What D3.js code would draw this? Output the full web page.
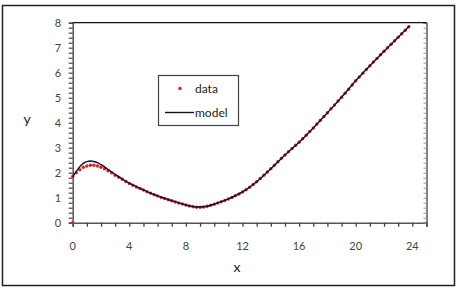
<!DOCTYPE html>
<html>
<head>
<meta charset="utf-8">
<script src="https://cdn.jsdelivr.net/npm/d3@7"></script>
<style>
  body { margin: 0; background: #fff; }
  text { font-family: Lato, "Open Sans", sans-serif; }
</style>
</head>
<body>
<svg width="460" height="288"></svg>
<script>
// data, x step 0.25
var dataX = d3.range(0, 24, 0.25)
var dataY = [1.85, 2.0, 2.12, 2.22, 2.27, 2.3, 2.3, 2.27, 2.22, 2.16, 2.08, 2.0,
  1.9, 1.82, 1.74, 1.65, 1.57, 1.5, 1.43, 1.37, 1.31, 1.24, 1.18, 1.12,
  1.07, 1.01, 0.97, 0.92, 0.88, 0.83, 0.79, 0.75, 0.71, 0.67, 0.64, 0.62,
  0.62, 0.63, 0.66, 0.7, 0.74, 0.79, 0.84, 0.89, 0.95, 1.01, 1.08, 1.15,
  1.23, 1.32, 1.42, 1.53, 1.64, 1.77, 1.9, 2.03, 2.16, 2.3, 2.44, 2.58,
  2.71, 2.84, 2.97, 3.1, 3.22, 3.36, 3.5, 3.65, 3.79, 3.95, 4.1, 4.25,
  4.4, 4.56, 4.71, 4.87, 5.02, 5.18, 5.34, 5.51, 5.68, 5.83, 5.98, 6.13,
  6.28, 6.43, 6.57, 6.72, 6.86, 7.0, 7.14, 7.28, 7.42, 7.56, 7.7, 7.84]
var extraX = [0]          // the lone point at the origin
var extraY = [0]

var modelX = [0, 0.25, 0.5, 0.75, 1, 1.25, 1.5, 1.75, 2, 2.25, 2.5, 2.75, 3,
  3.5, 4, 5, 6, 7, 8, 8.5, 9, 9.5, 10, 11, 12, 13, 14, 15, 16, 17, 18,
  19, 20, 21, 22, 23, 23.8]
var modelY = [1.83, 2.05, 2.24, 2.37, 2.44, 2.47, 2.45, 2.4, 2.32, 2.23, 2.13, 2.03, 1.93,
  1.75, 1.58, 1.31, 1.07, 0.88, 0.71, 0.65, 0.63, 0.66, 0.74, 0.95, 1.23, 1.64, 2.16, 2.71, 3.22, 3.79, 4.4,
  5.02, 5.68, 6.28, 6.86, 7.42, 7.87]

var xTicks = [0, 4, 8, 12, 16, 20, 24]
var yTicks = [0, 1, 2, 3, 4, 5, 6, 7, 8]

var svg = d3.select('svg')

svg.append('rect')
  .attr('x', 2.5).attr('y', 5.5).attr('width', 452).attr('height', 280)
  .attr('fill', 'none').attr('stroke', '#222').attr('stroke-width', 1.5)

var x = d3.scaleLinear().domain([0, 25]).range([72.7, 426.5])
var y = d3.scaleLinear().domain([0, 8]).range([222.7, 22.7])

// minor ticks
var gx = svg.append('g').attr('transform', 'translate(0,' + y(0) + ')')
gx.call(d3.axisBottom(x).tickValues(d3.range(0, 26, 1)).tickSize(4).tickFormat(''))
gx.select('.domain').attr('stroke', '#555').attr('stroke-width', 1.5)
gx.selectAll('.tick line').attr('stroke', '#444').attr('stroke-width', 1.3)

var gy = svg.append('g').attr('transform', 'translate(' + x(0) + ',0)')
gy.call(d3.axisLeft(y).tickValues(d3.range(0, 8.01, 0.2)).tickSize(4).tickFormat(''))
gy.select('.domain').attr('stroke', '#555').attr('stroke-width', 1.5)
gy.selectAll('.tick line').attr('stroke', '#444').attr('stroke-width', 1.2)

var gr = svg.append('g').attr('transform', 'translate(' + x(25) + ',0)')
gr.call(d3.axisLeft(y).tickValues(d3.range(0, 8.01, 0.2)).tickSize(3).tickFormat(''))
gr.select('.domain').attr('stroke', '#444').attr('stroke-width', 1.3)
gr.selectAll('.tick line').attr('stroke', '#999')
gr.selectAll('.tick line').attr('x2', -3)

svg.append('line')
  .attr('x1', x(0)).attr('x2', x(25)).attr('y1', y(8)).attr('y2', y(8))
  .attr('stroke', '#111').attr('stroke-width', 1.3)

// tick labels
svg.append('g').selectAll('text')
  .data(xTicks).enter().append('text')
  .attr('x', function(d) { return x(d) })
  .attr('y', 250)
  .attr('text-anchor', 'middle')
  .attr('font-size', '11px')
  .attr('fill', '#444')
  .text(function(d) { return d })

svg.append('g').selectAll('text')
  .data(yTicks).enter().append('text')
  .attr('x', 58)
  .attr('y', function(d) { return y(d) + 4 })
  .attr('text-anchor', 'middle')
  .attr('font-size', '11px')
  .attr('fill', '#444')
  .text(function(d) { return d })

svg.append('text').attr('x', 237).attr('y', 272).attr('text-anchor', 'middle')
  .attr('font-size', '14px').attr('fill', '#222').text('x')
svg.append('text').attr('x', 27).attr('y', 124).attr('text-anchor', 'middle')
  .attr('font-size', '14px').attr('fill', '#222').text('y')

// data points
var pts = dataX.map(function(d, i) { return [d, dataY[i]] })
  .concat(extraX.map(function(d, i) { return [d, extraY[i]] }))

svg.append('g').selectAll('circle')
  .data(pts).enter().append('circle')
  .attr('cx', function(d) { return x(d[0]) })
  .attr('cy', function(d) { return y(d[1]) })
  .attr('r', 1.7)
  .attr('fill', '#e0201c')

// model line
var line = d3.line().curve(d3.curveCatmullRom.alpha(0.5))
  .x(function(d) { return x(d[0]) })
  .y(function(d) { return y(d[1]) })

svg.append('path')
  .datum(modelX.map(function(d, i) { return [d, modelY[i]] }))
  .attr('d', line)
  .attr('fill', 'none')
  .attr('stroke', '#0d1030')
  .attr('stroke-width', 1.4)

// legend
var lg = svg.append('g')
lg.append('rect')
  .attr('x', 158.5).attr('y', 75.5).attr('width', 80).attr('height', 50)
  .attr('fill', '#fff').attr('stroke', '#444').attr('stroke-width', 1.2)
lg.append('circle').attr('cx', 180).attr('cy', 88.5).attr('r', 1.7).attr('fill', '#e0201c')
lg.append('text').attr('x', 195).attr('y', 92.5).attr('font-size', '12px').attr('fill', '#222').text('data')
lg.append('line').attr('x1', 165).attr('x2', 194).attr('y1', 112.5).attr('y2', 112.5)
  .attr('stroke', '#0d1030').attr('stroke-width', 1.4)
lg.append('text').attr('x', 195).attr('y', 117).attr('font-size', '12px').attr('fill', '#222').text('model')
</script>
</body>
</html>
